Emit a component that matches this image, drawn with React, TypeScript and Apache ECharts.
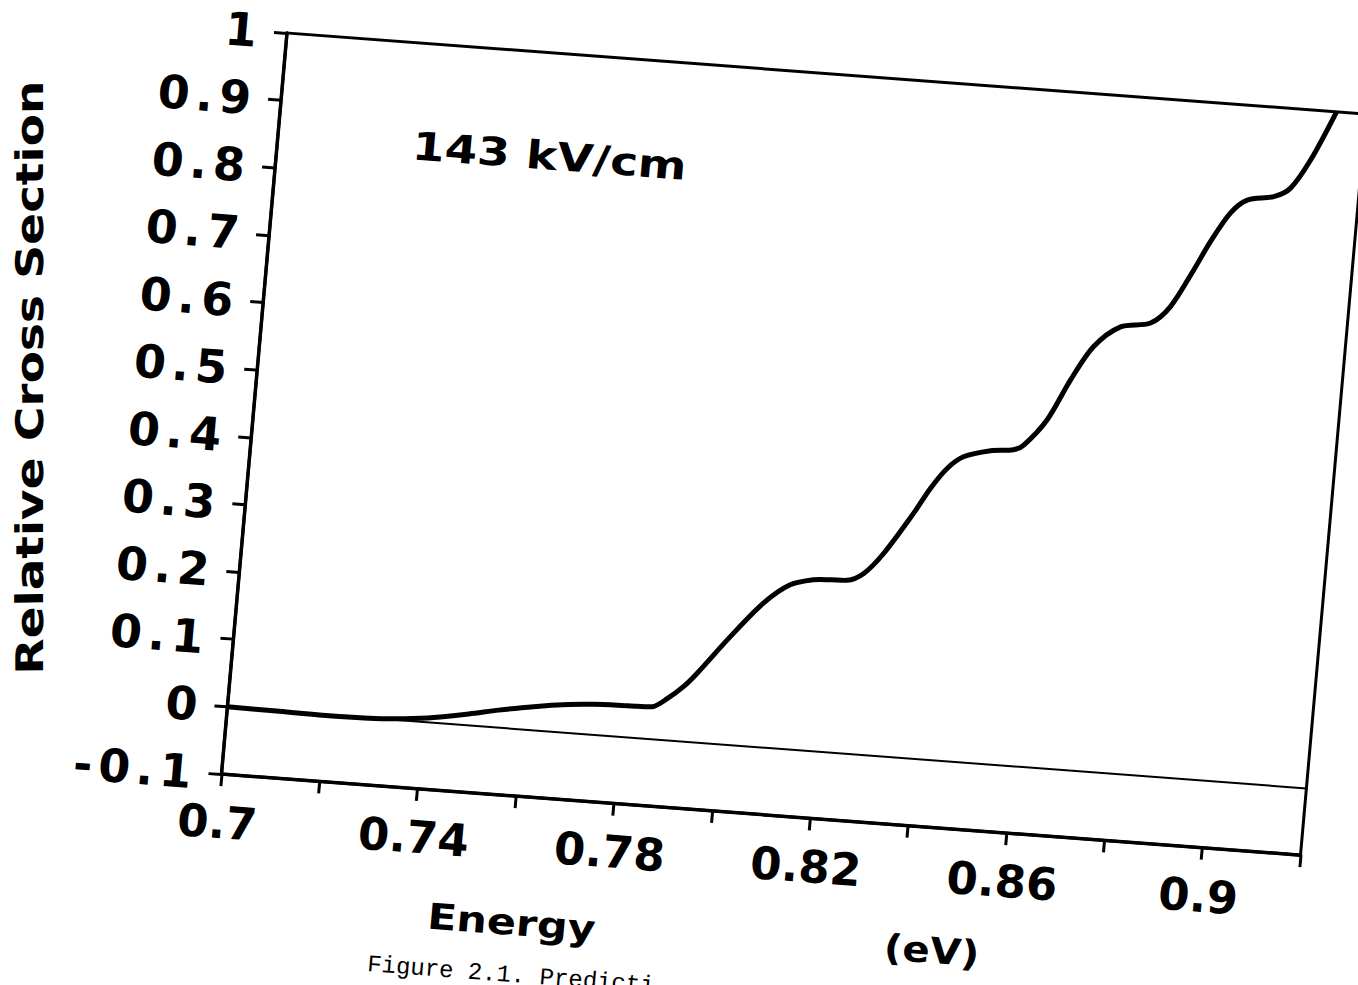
import React, { useEffect, useRef } from "react";
import * as echarts from "echarts";

// ---- data ----
const energy = [
  0.7, 0.71, 0.72, 0.73, 0.736, 0.742, 0.749, 0.755, 0.762, 0.769, 0.774, 0.779,
  0.783, 0.786, 0.789, 0.792, 0.7945, 0.8006, 0.8067, 0.8118, 0.8164, 0.82,
  0.8232, 0.8265, 0.8302, 0.8355, 0.8385, 0.8415, 0.8446, 0.85, 0.8546, 0.8566,
  0.8609, 0.8649, 0.869, 0.8741, 0.8801, 0.8838, 0.8879, 0.8908, 0.8943, 0.8975,
  0.9028, 0.906, 0.9096, 0.914,
];
const crossSection = [
  0.0, -0.001, -0.002, -0.001, 0.002, 0.007, 0.016, 0.025, 0.034, 0.041, 0.044,
  0.0455, 0.046, 0.047, 0.061, 0.08, 0.101, 0.159, 0.212, 0.242, 0.252, 0.254,
  0.255, 0.267, 0.299, 0.361, 0.4, 0.431, 0.45, 0.462, 0.466, 0.474, 0.514, 0.575,
  0.627, 0.659, 0.668, 0.694, 0.751, 0.795, 0.839, 0.86, 0.868, 0.882, 0.926, 1.0,
];
const xTickLabels = ["0.7", "0.74", "0.78", "0.82", "0.86", "0.9"];
const xRange = [0.7, 0.92];
const xStep = 0.02;
const yRange = [-0.1, 1];
const yStep = 0.1;
const fieldLabel = "143 kV/cm";
const xTitle = "Energy";
const xUnit = "(eV)";
const yTitle = "Relative Cross Section";
const caption = "Figure 2.1. Predicti";

export default function App() {
  const ref = useRef<HTMLDivElement>(null);

  useEffect(() => {
    if (!ref.current) return;
    const chart = echarts.init(ref.current, undefined, { renderer: "svg" });
    const font = "DejaVu Sans";
    chart.setOption({
      animation: false,
      backgroundColor: "transparent",
      grid: {
        left: 300,
        top: 60,
        width: 1082,
        height: 744,
        show: true,
        borderColor: "#000",
        borderWidth: 3,
        containLabel: false,
      },
      xAxis: {
        type: "value",
        min: xRange[0],
        max: xRange[1],
        interval: xStep,
        axisLine: { show: true, onZero: false, lineStyle: { color: "#000", width: 3.5 } },
        axisTick: { show: true, inside: false, length: 12, lineStyle: { color: "#000", width: 3 } },
        splitLine: { show: false },
        axisLabel: {
          show: true,
          color: "#000",
          fontFamily: font,
          fontWeight: "bold",
          fontSize: 45,
          margin: 26,
          formatter: (v: number) => {
            const s = String(+v.toFixed(2));
            return xTickLabels.includes(s) ? s : "";
          },
        },
      },
      yAxis: {
        type: "value",
        min: yRange[0],
        max: yRange[1],
        interval: yStep,
        axisLine: { show: true, onZero: false, lineStyle: { color: "#000", width: 3.5 } },
        axisTick: { show: true, inside: false, length: 13, lineStyle: { color: "#000", width: 3 } },
        splitLine: { show: false },
        axisLabel: {
          show: true,
          color: "#000",
          fontFamily: font,
          fontWeight: "bold",
          fontSize: 46,
          margin: 24,
          formatter: (v: number) => String(+v.toFixed(1)),
        },
      },
      series: [
        {
          type: "line",
          data: energy.map((x, i) => [x, crossSection[i]]),
          showSymbol: false,
          smooth: 0.3,
          clip: true,
          lineStyle: { color: "#000", width: 5 },
          markLine: {
            silent: true,
            symbol: "none",
            label: { show: false },
            lineStyle: { color: "#000", width: 2, type: "solid" },
            data: [{ yAxis: 0 }],
          },
        },
      ],
      graphic: [
        {
          type: "text",
          x: 435,
          y: 163,
          scaleX: 1.2,
          style: {
            text: fieldLabel,
            fill: "#000",
            font: `bold 39px "${font}"`,
            align: "left",
            verticalAlign: "middle",
            textAlign: "left",
            textVerticalAlign: "middle",
          },
        },
        {
          type: "text",
          x: 602,
          y: 930,
          scaleX: 1.19,
          style: {
            text: xTitle,
            fill: "#000",
            font: `bold 36px "${font}"`,
            align: "center",
            verticalAlign: "middle",
            textAlign: "center",
            textVerticalAlign: "middle",
          },
        },
        {
          type: "text",
          x: 1023,
          y: 927,
          scaleX: 1.12,
          style: {
            text: xUnit,
            fill: "#000",
            font: `bold 36px "${font}"`,
            align: "center",
            verticalAlign: "middle",
            textAlign: "center",
            textVerticalAlign: "middle",
          },
        },
        {
          type: "text",
          x: 74,
          y: 423,
          rotation: Math.PI / 2 + 0.0881,
          scaleX: 1.24,
          style: {
            text: yTitle,
            fill: "#000",
            font: `bold 38px "${font}"`,
            align: "center",
            verticalAlign: "middle",
            textAlign: "center",
            textVerticalAlign: "middle",
          },
        },
        {
          type: "text",
          x: 462,
          y: 983,
          style: {
            text: caption,
            fill: "#000",
            font: `24px "Liberation Mono"`,
            align: "left",
            verticalAlign: "middle",
            textAlign: "left",
            textVerticalAlign: "middle",
          },
        },
      ],
    });
    return () => chart.dispose();
  }, []);

  return (
    <div
      style={{
        position: "fixed",
        left: 0,
        top: 0,
        width: 1358,
        height: 985,
        overflow: "hidden",
        background: "#fff",
      }}
    >
      <style>{".ec-host text[style*='46px']{letter-spacing:6px;}"}</style>
      <div
        ref={ref}
        className="ec-host"
        style={{
          position: "absolute",
          left: 0,
          top: 0,
          width: 1442,
          height: 1044,
          transformOrigin: "0 0",
          transform: "matrix(0.99723, 0.0749, -0.08805, 0.99612, -6.89, -49.25)",
        }}
      />
    </div>
  );
}
